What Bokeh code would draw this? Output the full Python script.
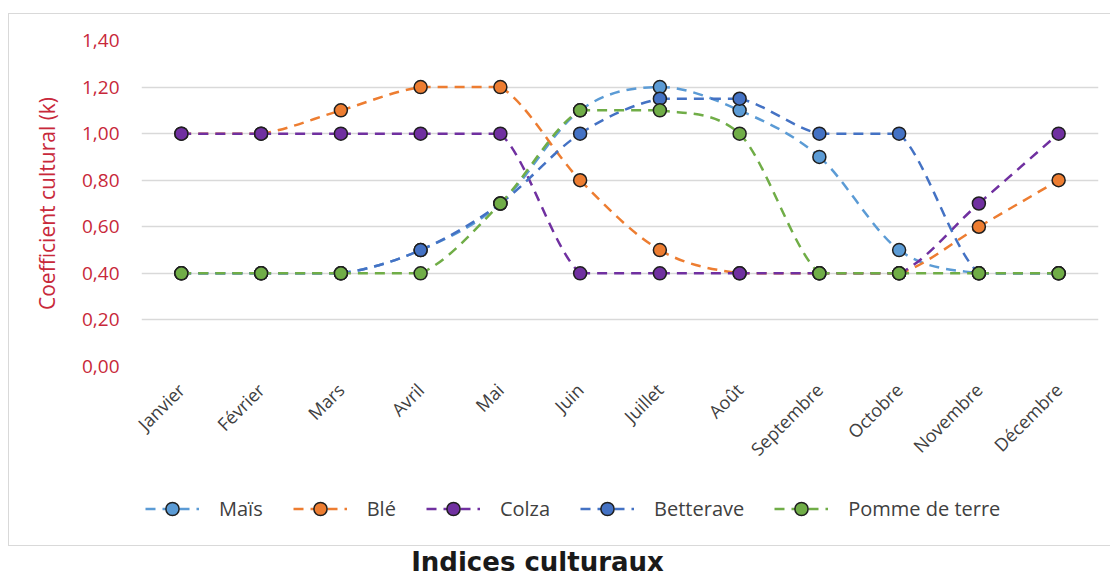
import numpy as np
from bokeh.plotting import figure
from bokeh.layouts import column
from bokeh.models import (FixedTicker, CustomJSTickFormatter, Legend, LegendItem,
                          Label, Range1d)
from bokeh.embed import file_html
from bokeh.resources import INLINE

# ---------------- data ----------------
months = ["Janvier", "Février", "Mars", "Avril", "Mai", "Juin", "Juillet",
          "Août", "Septembre", "Octobre", "Novembre", "Décembre"]
mais = [0.40, 0.40, 0.40, 0.50, 0.70, 1.10, 1.20, 1.10, 0.90, 0.50, 0.40, 0.40]
ble = [1.00, 1.00, 1.10, 1.20, 1.20, 0.80, 0.50, 0.40, 0.40, 0.40, 0.60, 0.80]
colza = [1.00, 1.00, 1.00, 1.00, 1.00, 0.40, 0.40, 0.40, 0.40, 0.40, 0.70, 1.00]
betterave = [0.40, 0.40, 0.40, 0.50, 0.70, 1.00, 1.15, 1.15, 1.00, 1.00, 0.40, 0.40]
pomme = [0.40, 0.40, 0.40, 0.40, 0.70, 1.10, 1.10, 1.00, 0.40, 0.40, 0.40, 0.40]
y_ticks = [0.0, 0.2, 0.4, 0.6, 0.8, 1.0, 1.2, 1.4]

series_names = ["Maïs", "Blé", "Colza", "Betterave", "Pomme de terre"]
series_values = [mais, ble, colza, betterave, pomme]
series_colors = ["#5B9BD5", "#ED7D31", "#7030A0", "#4472C4", "#70AD47"]
chart_title = "Indices culturaux"

FONT = "Open Sans"
RED = "#C8283A"
DASH = "10 7"

# ---------------- main chart ----------------
p = figure(width=1102, height=466, output_backend="svg", toolbar_location=None,
           x_range=Range1d(-0.5, len(months) - 0.5), y_range=Range1d(0, 1.4),
           min_border_left=132, min_border_right=13, min_border_top=26,
           min_border_bottom=114)
p.outline_line_color = None
p.background_fill_color = "white"
p.border_fill_color = "white"

xs = list(range(len(months)))
p.xaxis.ticker = FixedTicker(ticks=xs)
p.xaxis.major_label_overrides = {i: m for i, m in enumerate(months)}
p.xaxis.major_label_orientation = np.pi / 4
p.xaxis.axis_line_color = None
p.xaxis.major_tick_line_color = None
p.xaxis.minor_tick_line_color = None
p.xaxis.major_label_text_font = FONT
p.xaxis.major_label_text_font_size = "18px"
p.xaxis.major_label_text_color = "#404040"
p.xaxis.major_label_standoff = 14

p.yaxis.ticker = FixedTicker(ticks=y_ticks)
p.yaxis.formatter = CustomJSTickFormatter(code="return tick.toFixed(2).replace('.', ',');")
p.yaxis.axis_line_color = None
p.yaxis.major_tick_line_color = None
p.yaxis.minor_tick_line_color = None
p.yaxis.major_label_text_font = FONT
p.yaxis.major_label_text_font_size = "19px"
p.yaxis.major_label_text_color = RED
p.yaxis.major_label_standoff = 16
p.yaxis.axis_label = "Coefficient cultural (k)"
p.yaxis.axis_label_text_font = FONT
p.yaxis.axis_label_text_font_size = "21px"
p.yaxis.axis_label_text_font_style = "normal"
p.yaxis.axis_label_text_color = RED
p.yaxis.axis_label_standoff = 18

p.xgrid.grid_line_color = None
p.ygrid.grid_line_color = "#D9D9D9"
p.ygrid.grid_line_width = 1.5


def smooth_segments(vals):
    """Bezier control points (Catmull-Rom, clamped to segment range)."""
    n = len(vals)
    x0, y0, x1, y1, cx0, cy0, cx1, cy1 = [], [], [], [], [], [], [], []
    for i in range(n - 1):
        pa = (i - 1, vals[i - 1]) if i > 0 else (i, vals[i])
        pb = (i, vals[i])
        pc = (i + 1, vals[i + 1])
        pd = (i + 2, vals[i + 2]) if i + 2 < n else (i + 1, vals[i + 1])
        c1x = pb[0] + (pc[0] - pa[0]) / 6.0
        c1y = pb[1] + (pc[1] - pa[1]) / 6.0
        c2x = pc[0] - (pd[0] - pb[0]) / 6.0
        c2y = pc[1] - (pd[1] - pb[1]) / 6.0
        lo, hi = min(pb[1], pc[1]), max(pb[1], pc[1])
        c1y = min(max(c1y, lo), hi)
        c2y = min(max(c2y, lo), hi)
        x0.append(pb[0]); y0.append(pb[1]); x1.append(pc[0]); y1.append(pc[1])
        cx0.append(c1x); cy0.append(c1y); cx1.append(c2x); cy1.append(c2y)
    return dict(x0=x0, y0=y0, x1=x1, y1=y1, cx0=cx0, cy0=cy0, cx1=cx1, cy1=cy1)


for vals, col in zip(series_values, series_colors):
    seg = smooth_segments(vals)
    p.bezier(x0="x0", y0="y0", x1="x1", y1="y1", cx0="cx0", cy0="cy0",
             cx1="cx1", cy1="cy1", source=seg, line_color=col, line_width=2.5,
             line_dash=DASH)
    p.scatter(xs, vals, size=13, fill_color=col, line_color="#1F1F1F",
              line_width=1.5)

# ---------------- legend strip ----------------
# the series are re-plotted here out of this strip's view, only to feed the legend
lg = figure(width=1102, height=65, output_backend="svg", toolbar_location=None,
            x_range=Range1d(100, 101), y_range=Range1d(100, 101),
            min_border=0, min_border_left=0, min_border_right=0,
            min_border_top=0, min_border_bottom=0)
lg.axis.visible = False
lg.grid.visible = False
lg.outline_line_color = None
lg.border_fill_color = "white"

items = []
for name, vals, col in zip(series_names, series_values, series_colors):
    lr = lg.line(xs, vals, line_color=col, line_width=2.5, line_dash=DASH)
    sr = lg.scatter(xs, vals, size=13, fill_color=col, line_color="#1F1F1F",
                    line_width=1.5)
    items.append(LegendItem(label=name, renderers=[lr, sr]))

legend = Legend(items=items, orientation="horizontal", location=(4, 20),
                glyph_width=54, glyph_height=33, label_standoff=20, spacing=30,
                padding=0, margin=0, border_line_color=None,
                background_fill_alpha=0,
                label_text_font=FONT, label_text_font_size="20px",
                label_text_color="#404040")
lg.add_layout(legend)

box = column(p, lg, margin=(13, 0, 0, 8), spacing=0,
             styles={"border": "1.5px solid #D9D9D9", "border-right": "none"})

# ---------------- title strip ----------------
tf = figure(width=1110, height=31, output_backend="svg", toolbar_location=None,
            x_range=Range1d(0, 1), y_range=Range1d(0, 1),
            min_border=0, min_border_left=0, min_border_right=0,
            min_border_top=0, min_border_bottom=0)
tf.axis.visible = False
tf.grid.visible = False
tf.outline_line_color = None
tf.border_fill_color = "white"
tf.add_layout(Label(x=537, y=16, x_units="screen", y_units="screen",
                    text=chart_title, text_align="center",
                    text_baseline="alphabetic",
                    text_font="DejaVu Sans", text_font_style="bold",
                    text_font_size="26px", text_color="#1A1A1A"))

page = column(box, tf, spacing=0)
open("out.html", "w").write(file_html(page, INLINE))
